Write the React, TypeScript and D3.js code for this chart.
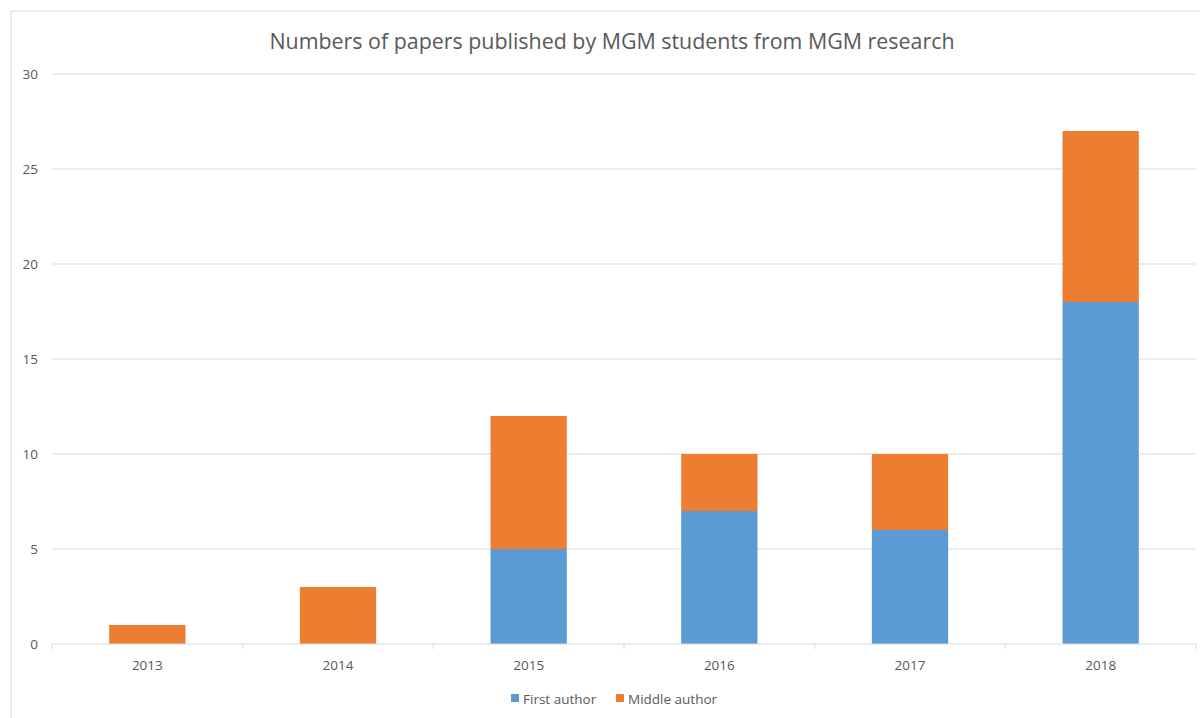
import React from "react";
import * as d3 from "d3";

const categories = ["2013", "2014", "2015", "2016", "2017", "2018"];
const firstAuthor = [0, 0, 5, 7, 6, 18];
const middleAuthor = [1, 3, 7, 3, 4, 9];
const seriesNames = ["First author", "Middle author"];
const yTicks = [0, 5, 10, 15, 20, 25, 30];
const title = "Numbers of papers published by MGM students from MGM research";

const colors = ["#5B9BD5", "#ED7D31"];
const font = "'Open Sans', sans-serif";

export default function App() {
  const W = 1200, H = 718;
  const left = 52, right = 1196, top = 74, bottom = 644;
  const x = d3.scaleBand<string>().domain(categories).range([left, right]).paddingInner(0.6).paddingOuter(0.3);
  const xb = d3.scaleBand<string>().domain(categories).range([left, right]);
  const y = d3.scaleLinear().domain([0, 30]).range([bottom, top]);

  const rows = categories.map((c, i) => ({ cat: c, first: firstAuthor[i], middle: middleAuthor[i] }));
  const stacked = d3.stack<any>().keys(["first", "middle"])(rows);

  const boundaries = categories.map((c) => xb(c)!).concat([right]);
  const fs = 13.5;

  return (
    <svg width={W} height={H} style={{ position: "absolute", left: 0, top: 0, background: "#fff" }}>
      <rect x={11} y={11} width={1210} height={730} fill="#fff" stroke="#D9D9D9" strokeWidth={1} />
      <text x={612} y={49} textAnchor="middle" fontFamily={font} fontSize={21.4} fill="#595959">{title}</text>
      {yTicks.map((t) => (
        <g key={t}>
          {t !== 0 && <line x1={left} x2={right} y1={y(t)} y2={y(t)} stroke="#D9D9D9" strokeWidth={1} />}
          <text x={38} y={y(t) + 4.5} textAnchor="end" fontFamily={font} fontSize={fs} fill="#595959">{t}</text>
        </g>
      ))}
      {stacked.map((s, si) => (
        <g key={si} fill={colors[si]}>
          {s.map((d, i) => (
            d[1] - d[0] > 0 ? (
              <rect key={i} x={x(categories[i])} width={x.bandwidth()} y={y(d[1])} height={y(d[0]) - y(d[1])} />
            ) : null
          ))}
        </g>
      ))}
      <line x1={left} x2={right} y1={bottom} y2={bottom} stroke="#D9D9D9" strokeWidth={1} />
      {boundaries.map((b, i) => (
        <line key={i} x1={b} x2={b} y1={bottom} y2={bottom + 5} stroke="#D9D9D9" strokeWidth={1} />
      ))}
      {categories.map((c) => (
        <text key={c} x={xb(c)! + xb.bandwidth() / 2} y={670} textAnchor="middle" fontFamily={font} fontSize={fs} fill="#595959">{c}</text>
      ))}
      <g>
        <rect x={511} y={694} width={8} height={8} fill={colors[0]} />
        <text x={523} y={703.5} fontFamily={font} fontSize={fs} fill="#595959">{seriesNames[0]}</text>
        <rect x={616} y={694} width={8} height={8} fill={colors[1]} />
        <text x={628} y={703.5} fontFamily={font} fontSize={fs} fill="#595959">{seriesNames[1]}</text>
      </g>
    </svg>
  );
}
